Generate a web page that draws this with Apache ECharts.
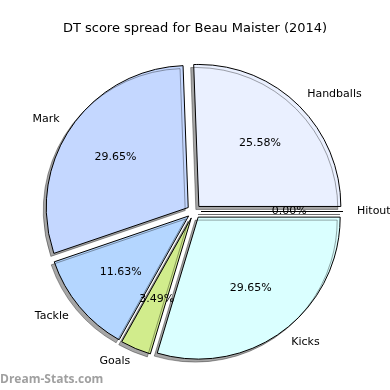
<!DOCTYPE html>
<html>
<head>
<meta charset="utf-8">
<script src="https://cdn.jsdelivr.net/npm/echarts@6/dist/echarts.min.js"></script>
<style>
html,body{margin:0;padding:0;background:#fff;}
#chart{width:390px;height:390px;}
</style>
</head>
<body>
<div id="chart"></div>
<script>
var title = 'DT score spread for Beau Maister (2014)';
var categories = ['Handballs', 'Mark', 'Tackle', 'Goals', 'Kicks', 'Hitout'];
var values = [44, 51, 20, 6, 51, 0];
var colors = ['#eaf0ff', '#c4d7ff', '#b4d6ff', '#d1ec8c', '#daffff', '#ffffff'];

var total = values.reduce(function (a, b) { return a + b; }, 0);
var R = 142, CX = 194, CY = 211.5, OFF = 7;

function mkData(withColor) {
  return categories.map(function (c, i) {
    return {
      name: c, value: values[i], selected: true,
      itemStyle: withColor ? { color: colors[i] } : { color: 'rgba(0,0,0,0)' }
    };
  });
}

var chart = echarts.init(document.getElementById('chart'), null, { renderer: 'canvas' });
chart.setOption({
  animation: false,
  backgroundColor: '#ffffff',
  title: {
    text: title, left: 'center', top: 17,
    textStyle: { fontFamily: 'DejaVu Sans', fontSize: 13, fontWeight: 'normal', color: '#000' }
  },
  graphic: [{
    type: 'text', left: 0, top: 374,
    style: { text: 'Dream-Stats.com', fill: '#a0a0a0', font: 'bold 12px "Open Sans"' }
  }],
  series: [
    {
      type: 'pie', center: [CX, CY], radius: [0, R],
      startAngle: 0, clockwise: false, silent: true,
      selectedMode: 'multiple', selectedOffset: OFF,
      avoidLabelOverlap: false,
      itemStyle: {
        borderColor: '#000', borderWidth: 1,
        shadowColor: 'rgba(0,0,0,0.35)', shadowBlur: 0, shadowOffsetX: -3, shadowOffsetY: 3
      },
      label: {
        show: true, position: 'outside', formatter: '{b}', distanceToLabelLine: 0,
        fontFamily: 'DejaVu Sans', fontSize: 11, color: '#000'
      },
      labelLine: { show: false, length: 14, length2: 0 },
      emphasis: { disabled: true },
      data: mkData(true)
    },
    {
      type: 'pie', center: [CX, CY], radius: [R * 0.2, R],
      startAngle: 0, clockwise: false, silent: true,
      selectedMode: 'multiple', selectedOffset: OFF,
      avoidLabelOverlap: false,
      itemStyle: { borderWidth: 0 },
      label: {
        show: true, position: 'inside',
        formatter: function (p) { return (p.value / total * 100).toFixed(2) + '%'; },
        fontFamily: 'DejaVu Sans', fontSize: 11, color: '#000'
      },
      labelLine: { show: false },
      emphasis: { disabled: true },
      data: mkData(false)
    }
  ]
});
</script>
</body>
</html>
